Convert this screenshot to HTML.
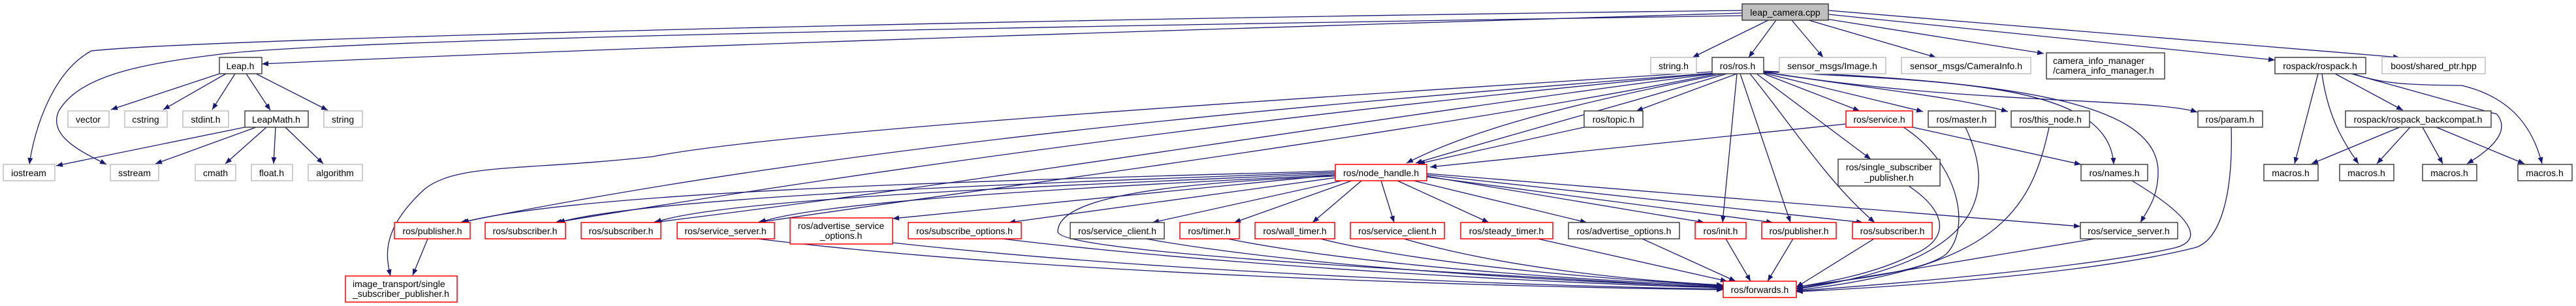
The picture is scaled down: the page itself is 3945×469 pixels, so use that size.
<!DOCTYPE html>
<html><head><meta charset="utf-8"><style>
html,body{margin:0;padding:0;background:#fff;}
svg{display:block;}
text{font-family:"Liberation Sans",sans-serif;font-size:14px;fill:#000;}
.e{fill:none;stroke:#191970;stroke-width:1.3;marker-end:url(#a);}
.k{fill:#fff;stroke:#404040;stroke-width:1.5;}
.g{fill:#fff;stroke:#bfbfbf;stroke-width:1.5;}
.r{fill:#fff;stroke:#ff0000;stroke-width:1.5;}
</style></head><body>
<svg width="3945" height="469" viewBox="0 0 3945 469" xmlns="http://www.w3.org/2000/svg">
<defs><marker id="a" markerUnits="userSpaceOnUse" markerWidth="11" markerHeight="9" refX="10" refY="4" orient="auto"><path d="M0,0 L10,4 L0,8 z" fill="#191970"/></marker></defs>
<g>
<path class="e" d="M2668,20 C2000,40 1000,70 401,98"/>
<path class="e" d="M2668,16 C1500,30 300,60 140,78 C80,110 52,200 45,252"/>
<path class="e" d="M2668,24 C1500,42 500,60 330,84 C200,100 120,120 90,170 C72,210 130,235 163,252"/>
<path class="e" d="M2708,31 L2592,88"/>
<path class="e" d="M2720,31 L2678,88"/>
<path class="e" d="M2744,31 L2792,88"/>
<path class="e" d="M2770,31 L2965,88"/>
<path class="e" d="M2790,28 L3130,82"/>
<path class="e" d="M2800,22 L3484,92"/>
<path class="e" d="M2800,16 L3675,88"/>
<path class="e" d="M2660,113 L2506,170"/>
<path class="e" d="M2640,113 C2400,160 2250,200 2154,250"/>
<path class="e" d="M2645,113 C2450,170 2300,210 2168,250"/>
<path class="e" d="M2827,190 L2190,256"/>
<path class="e" d="M2426,195 L2172,251"/>
<path class="e" d="M2622,110 C2000,150 1200,200 1000,240 C800,262 700,250 650,290 C585,350 590,390 598,423"/>
<path class="e" d="M2625,112 C2000,160 1300,220 705,341"/>
<path class="e" d="M2628,112 C2000,170 1400,250 850,341"/>
<path class="e" d="M2632,112 C2100,180 1500,280 1000,341"/>
<path class="e" d="M2635,112 C2200,200 1500,290 1160,341"/>
<path class="e" d="M2045,262 C1600,275 900,290 708,341"/>
<path class="e" d="M2045,264 C1600,280 1000,300 855,341"/>
<path class="e" d="M2045,266 C1600,285 1100,305 1003,341"/>
<path class="e" d="M2045,268 C1600,290 1250,310 1163,341"/>
<path class="e" d="M2045,268 L1367,335"/>
<path class="e" d="M2048,272 L1545,341"/>
<path class="e" d="M2055,277 L1765,341"/>
<path class="e" d="M2070,277 L1890,341"/>
<path class="e" d="M2085,277 L2010,341"/>
<path class="e" d="M2115,277 L2135,341"/>
<path class="e" d="M2140,277 L2280,341"/>
<path class="e" d="M2165,277 L2430,341"/>
<path class="e" d="M2185,270 L2610,341"/>
<path class="e" d="M2185,271 L2715,341"/>
<path class="e" d="M2185,268 L2853,341"/>
<path class="e" d="M2185,266 L3186,347"/>
<path class="e" d="M2660,113 L2638,341"/>
<path class="e" d="M2665,113 L2742,341"/>
<path class="e" d="M2680,113 C2750,200 2800,280 2871,341"/>
<path class="e" d="M2690,113 L2865,244"/>
<path class="e" d="M2701,113 L2848,170"/>
<path class="e" d="M2701,112 L2945,171"/>
<path class="e" d="M2701,111 C2900,140 3000,150 3075,171"/>
<path class="e" d="M2701,110 C3000,160 3300,150 3365,172"/>
<path class="e" d="M2701,110 C3000,125 3230,130 3237,252"/>
<path class="e" d="M2701,109 C3100,125 3300,160 3305,260 C3306,300 3290,320 3278,341"/>
<path class="e" d="M2929,195 L3187,252"/>
<path class="e" d="M2915,195 C3000,250 3020,350 2980,390 C2940,420 2800,432 2751,440"/>
<path class="e" d="M3010,195 C3050,280 3060,400 2751,443"/>
<path class="e" d="M3138,195 C3110,330 3050,410 2751,445"/>
<path class="e" d="M3417,195 C3420,300 3400,370 3360,380 C3200,420 2900,440 2751,447"/>
<path class="e" d="M3265,277 C3370,340 3370,370 3330,380 C3200,410 2900,435 2751,446"/>
<path class="e" d="M3208,366 L2751,442"/>
<path class="e" d="M2923,285 C2990,330 2980,370 2930,390 C2870,420 2800,432 2751,440"/>
<path class="e" d="M2870,366 L2751,440"/>
<path class="e" d="M2746,366 L2707,431"/>
<path class="e" d="M2643,366 L2681,431"/>
<path class="e" d="M2515,366 L2658,431"/>
<path class="e" d="M2355,366 L2645,431"/>
<path class="e" d="M2022,366 C2200,410 2500,430 2639,438"/>
<path class="e" d="M1880,366 C2100,410 2450,430 2639,439"/>
<path class="e" d="M1755,366 C2000,410 2400,432 2639,440"/>
<path class="e" d="M2150,366 C2300,410 2500,430 2639,437"/>
<path class="e" d="M1535,366 C1900,410 2400,435 2639,441"/>
<path class="e" d="M1367,372 C1800,420 2400,440 2639,443"/>
<path class="e" d="M1160,366 C1600,420 2300,440 2639,444"/>
<path class="e" d="M2045,270 C1800,280 1620,300 1620,355 C1620,390 2300,420 2639,442"/>
<path class="e" d="M336,113 L170,168"/>
<path class="e" d="M346,113 L250,168"/>
<path class="e" d="M360,113 L325,168"/>
<path class="e" d="M377,113 L414,169"/>
<path class="e" d="M392,113 L502,169"/>
<path class="e" d="M375,195 L86,254"/>
<path class="e" d="M392,195 L238,251"/>
<path class="e" d="M408,195 L345,251"/>
<path class="e" d="M422,195 L419,251"/>
<path class="e" d="M437,195 L495,251"/>
<path class="e" d="M655,366 L632,422"/>
<path class="e" d="M3550,113 L3514,251"/>
<path class="e" d="M3556,113 C3565,180 3590,220 3612,251"/>
<path class="e" d="M3576,113 L3680,169"/>
<path class="e" d="M3601,113 L3824,175 C3840,195 3830,220 3778,251"/>
<path class="e" d="M3604,113 C3650,130 3700,130 3770,131 C3850,150 3880,200 3893,251"/>
<path class="e" d="M3675,195 L3540,251"/>
<path class="e" d="M3691,195 L3640,251"/>
<path class="e" d="M3710,195 L3741,251"/>
<path class="e" d="M3731,195 L3866,251"/>
</g>
<g>
<rect x="2668" y="6" width="132" height="25" fill="#bfbfbf" stroke="#404040" stroke-width="1.5"/><text x="2734" y="24" text-anchor="middle">leap_camera.cpp</text>
<rect class="k" x="336" y="88" width="65" height="25"/><text x="368" y="106" text-anchor="middle">Leap.h</text>
<rect class="g" x="2528" y="88" width="70" height="25"/><text x="2563" y="106" text-anchor="middle">string.h</text>
<rect class="k" x="2622" y="88" width="79" height="25"/><text x="2661" y="106" text-anchor="middle">ros/ros.h</text>
<rect class="g" x="2725" y="88" width="163" height="25"/><text x="2806" y="106" text-anchor="middle">sensor_msgs/Image.h</text>
<rect class="g" x="2912" y="88" width="198" height="25"/><text x="3011" y="106" text-anchor="middle">sensor_msgs/CameraInfo.h</text>
<rect class="k" x="3134" y="81" width="181" height="40"/><text x="3144" y="98">camera_info_manager</text><text x="3144" y="113">/camera_info_manager.h</text>
<rect class="k" x="3484" y="88" width="139" height="25"/><text x="3553" y="106" text-anchor="middle">rospack/rospack.h</text>
<rect class="g" x="3648" y="88" width="158" height="25"/><text x="3727" y="106" text-anchor="middle">boost/shared_ptr.hpp</text>

<rect class="g" x="104" y="170" width="63" height="25"/><text x="135" y="188" text-anchor="middle">vector</text>
<rect class="g" x="191" y="170" width="65" height="25"/><text x="223" y="188" text-anchor="middle">cstring</text>
<rect class="g" x="280" y="170" width="70" height="25"/><text x="315" y="188" text-anchor="middle">stdint.h</text>
<rect class="k" x="375" y="170" width="97" height="25"/><text x="423" y="188" text-anchor="middle">LeapMath.h</text>
<rect class="g" x="496" y="170" width="59" height="25"/><text x="525" y="188" text-anchor="middle">string</text>
<rect class="k" x="2426" y="170" width="90" height="25"/><text x="2471" y="188" text-anchor="middle">ros/topic.h</text>
<rect class="r" x="2827" y="170" width="102" height="25"/><text x="2878" y="188" text-anchor="middle">ros/service.h</text>
<rect class="k" x="2953" y="170" width="103" height="25"/><text x="3004" y="188" text-anchor="middle">ros/master.h</text>
<rect class="k" x="3080" y="170" width="120" height="25"/><text x="3140" y="188" text-anchor="middle">ros/this_node.h</text>
<rect class="k" x="3366" y="170" width="99" height="25"/><text x="3415" y="188" text-anchor="middle">ros/param.h</text>
<rect class="k" x="3592" y="170" width="223" height="25"/><text x="3703" y="188" text-anchor="middle">rospack/rospack_backcompat.h</text>

<rect class="g" x="5" y="252" width="79" height="25"/><text x="44" y="270" text-anchor="middle">iostream</text>
<rect class="g" x="169" y="252" width="74" height="25"/><text x="206" y="270" text-anchor="middle">sstream</text>
<rect class="g" x="299" y="252" width="62" height="25"/><text x="330" y="270" text-anchor="middle">cmath</text>
<rect class="g" x="385" y="252" width="63" height="25"/><text x="416" y="270" text-anchor="middle">float.h</text>
<rect class="g" x="472" y="252" width="83" height="25"/><text x="513" y="270" text-anchor="middle">algorithm</text>
<rect class="r" x="2045" y="252" width="140" height="25"/><text x="2115" y="270" text-anchor="middle">ros/node_handle.h</text>
<rect class="k" x="2815" y="244" width="156" height="41"/><text x="2893" y="261" text-anchor="middle">ros/single_subscriber</text><text x="2893" y="277" text-anchor="middle">_publisher.h</text>
<rect class="k" x="3187" y="252" width="102" height="25"/><text x="3238" y="270" text-anchor="middle">ros/names.h</text>
<rect class="k" x="3467" y="252" width="83" height="25"/><text x="3508" y="270" text-anchor="middle">macros.h</text>
<rect class="k" x="3583" y="252" width="83" height="25"/><text x="3624" y="270" text-anchor="middle">macros.h</text>
<rect class="k" x="3710" y="252" width="83" height="25"/><text x="3751" y="270" text-anchor="middle">macros.h</text>
<rect class="k" x="3856" y="252" width="83" height="25"/><text x="3897" y="270" text-anchor="middle">macros.h</text>

<rect class="r" x="604" y="341" width="116" height="25"/><text x="662" y="359" text-anchor="middle">ros/publisher.h</text>
<rect class="r" x="743" y="341" width="123" height="25"/><text x="804" y="359" text-anchor="middle">ros/subscriber.h</text>
<rect class="r" x="890" y="341" width="122" height="25"/><text x="951" y="359" text-anchor="middle">ros/subscriber.h</text>
<rect class="r" x="1037" y="341" width="149" height="25"/><text x="1111" y="359" text-anchor="middle">ros/service_server.h</text>
<rect class="r" x="1210" y="334" width="157" height="40"/><text x="1288" y="351" text-anchor="middle">ros/advertise_service</text><text x="1288" y="366" text-anchor="middle">_options.h</text>
<rect class="r" x="1391" y="341" width="173" height="25"/><text x="1477" y="359" text-anchor="middle">ros/subscribe_options.h</text>
<rect class="k" x="1639" y="341" width="144" height="25"/><text x="1711" y="359" text-anchor="middle">ros/service_client.h</text>
<rect class="r" x="1807" y="341" width="91" height="25"/><text x="1852" y="359" text-anchor="middle">ros/timer.h</text>
<rect class="r" x="1922" y="341" width="122" height="25"/><text x="1983" y="359" text-anchor="middle">ros/wall_timer.h</text>
<rect class="r" x="2068" y="341" width="144" height="25"/><text x="2140" y="359" text-anchor="middle">ros/service_client.h</text>
<rect class="r" x="2237" y="341" width="141" height="25"/><text x="2307" y="359" text-anchor="middle">ros/steady_timer.h</text>
<rect class="k" x="2402" y="341" width="170" height="25"/><text x="2487" y="359" text-anchor="middle">ros/advertise_options.h</text>
<rect class="r" x="2596" y="341" width="78" height="25"/><text x="2635" y="359" text-anchor="middle">ros/init.h</text>
<rect class="r" x="2698" y="341" width="114" height="25"/><text x="2755" y="359" text-anchor="middle">ros/publisher.h</text>
<rect class="r" x="2837" y="341" width="122" height="25"/><text x="2898" y="359" text-anchor="middle">ros/subscriber.h</text>
<rect class="k" x="3186" y="341" width="149" height="25"/><text x="3260" y="359" text-anchor="middle">ros/service_server.h</text>

<rect class="r" x="529" y="423" width="171" height="40"/><text x="540" y="440">image_transport/single</text><text x="540" y="455">_subscriber_publisher.h</text>
<rect class="r" x="2639" y="431" width="112" height="25"/><text x="2695" y="449" text-anchor="middle">ros/forwards.h</text>
</g>
</svg>
</body></html>
